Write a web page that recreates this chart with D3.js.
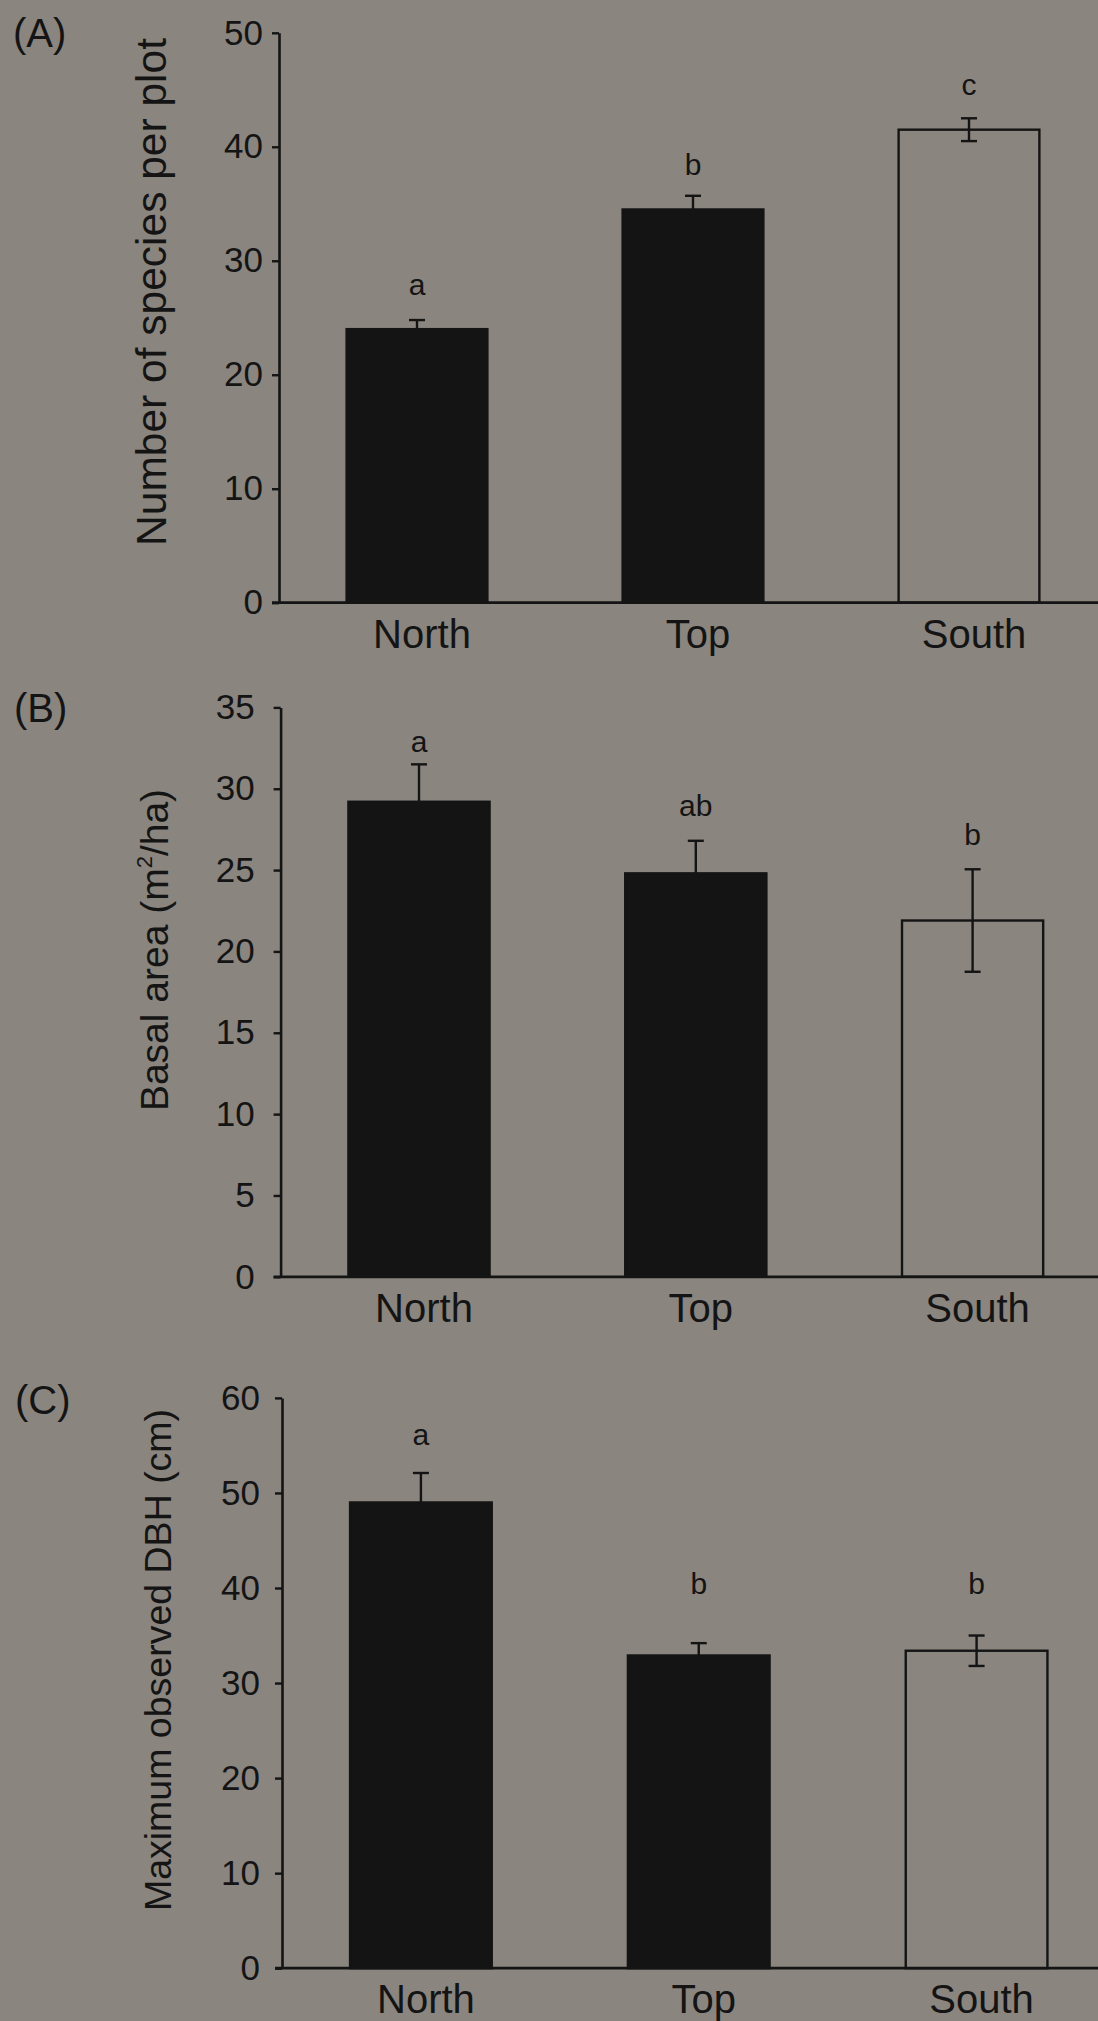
<!DOCTYPE html>
<html>
<head>
<meta charset="utf-8">
<script src="https://cdn.jsdelivr.net/npm/d3@7"></script>
<style>
  html, body { margin: 0; padding: 0; background: #8a857f; }
  svg { display: block; }
  text { font-family: "Liberation Sans", Arial, Helvetica, sans-serif; fill: #141414; }
</style>
</head>
<body>
<svg id="chart" width="1098" height="2021"></svg>
<script>
// ---------- data ----------
const categories = ["North", "Top", "South"];

const speciesMean = [24.0, 34.5, 41.5];
const speciesSE = [0.8, 1.2, 1.0];
const speciesLetters = ["a", "b", "c"];
const speciesLetterAt = [27.8, 38.3, 45.3];
const speciesTicks = [0, 10, 20, 30, 40, 50];

const basalMean = [29.2, 24.8, 21.9];
const basalSE = [2.3, 2.0, 3.15];
const basalLetters = ["a", "ab", "b"];
const basalLetterAt = [32.8, 28.9, 27.1];
const basalTicks = [0, 5, 10, 15, 20, 25, 30, 35];

const dbhMean = [49.0, 32.9, 33.4];
const dbhSE = [3.1, 1.3, 1.6];
const dbhLetters = ["a", "b", "b"];
const dbhLetterAt = [56.0, 40.3, 40.3];
const dbhTicks = [0, 10, 20, 30, 40, 50, 60];

const hollow = ["South"];

// ---------- layout ----------
const panels = [
  { tag: "(A)", title: ["Number of species per plot"], mean: speciesMean, se: speciesSE,
    letters: speciesLetters, letterAt: speciesLetterAt, ticks: speciesTicks,
    yTop: 32.8, y0: 602.7, axisX: 279, bandEnd: 1107, tickPad: 9,
    titleX: 151, titleY: 292, titleSize: 42.5, tagY: 46.6, tagX: 13 },
  { tag: "(B)", title: ["Basal area (m", "2", "/ha)"], mean: basalMean, se: basalSE,
    letters: basalLetters, letterAt: basalLetterAt, ticks: basalTicks,
    yTop: 707.4, y0: 1276.8, axisX: 280.6, bandEnd: 1111, tickPad: 19,
    titleX: 154, titleY: 950, titleSize: 39, tagY: 722, tagX: 14 },
  { tag: "(C)", title: ["Maximum observed DBH (cm)"], mean: dbhMean, se: dbhSE,
    letters: dbhLetters, letterAt: dbhLetterAt, ticks: dbhTicks,
    yTop: 1397.9, y0: 1968.2, axisX: 282, bandEnd: 1115.5, tickPad: 15,
    titleX: 157, titleY: 1660, titleSize: 37.5, tagY: 1414, tagX: 15 }
];

const svg = d3.select("#chart");
const ink = "#141414";
const bg = "#8a857f";

panels.forEach(p => {
  const g = svg.append("g");
  const maxT = d3.max(p.ticks);
  const y = d3.scaleLinear().domain([0, maxT]).range([p.y0, p.yTop]);
  const x = d3.scaleBand().domain(categories)
    .range([p.axisX, p.bandEnd]).paddingInner(0.49).paddingOuter(0.245);

  // bars
  g.selectAll("rect.bar").data(categories).join("rect")
    .attr("class", "bar")
    .attr("x", d => x(d))
    .attr("width", x.bandwidth())
    .attr("y", (d, i) => y(p.mean[i]))
    .attr("height", (d, i) => y(0) - y(p.mean[i]))
    .attr("fill", d => hollow.includes(d) ? bg : ink)
    .attr("stroke", ink)
    .attr("stroke-width", 2.4);

  // error bars
  const capW = 8;
  categories.forEach((c, i) => {
    const cx = x(c) + x.bandwidth() / 2;
    const hi = y(p.mean[i] + p.se[i]);
    const lo = y(p.mean[i] - p.se[i]);
    const eg = g.append("g").attr("stroke", ink).attr("stroke-width", 2.4);
    eg.append("line").attr("x1", cx).attr("x2", cx).attr("y1", hi).attr("y2", lo);
    eg.append("line").attr("x1", cx - capW).attr("x2", cx + capW).attr("y1", hi).attr("y2", hi);
    eg.append("line").attr("x1", cx - capW).attr("x2", cx + capW).attr("y1", lo).attr("y2", lo);
    // significance letter
    g.append("text")
      .attr("x", cx)
      .attr("y", y(p.letterAt[i]))
      .attr("dy", "0.3em")
      .attr("text-anchor", "middle")
      .attr("font-size", 30)
      .text(p.letters[i]);
    // category label
    g.append("text")
      .attr("x", cx + 5)
      .attr("y", p.y0 + 45)
      .attr("text-anchor", "middle")
      .attr("font-size", 40)
      .text(c);
  });

  // y axis
  const ax = g.append("g")
    .attr("transform", `translate(${p.axisX},0)`)
    .call(d3.axisLeft(y).tickValues(p.ticks).tickSize(7).tickSizeOuter(0).tickPadding(p.tickPad));
  ax.select(".domain").attr("stroke", ink).attr("stroke-width", 2.6);
  ax.selectAll(".tick line").attr("stroke", ink).attr("stroke-width", 2.4);
  ax.selectAll(".tick text").attr("font-size", 35).attr("fill", ink)
    .attr("font-family", '"Liberation Sans", Arial, sans-serif');

  // x baseline
  g.append("line")
    .attr("x1", p.axisX - 7).attr("x2", 1098)
    .attr("y1", y(0)).attr("y2", y(0))
    .attr("stroke", ink).attr("stroke-width", 2.8);

  // y title
  const t = g.append("text")
    .attr("transform", `translate(${p.titleX},${p.titleY}) rotate(-90)`)
    .attr("text-anchor", "middle")
    .attr("dy", "0.36em")
    .attr("font-size", p.titleSize);
  if (p.title.length === 1) {
    t.text(p.title[0]);
  } else {
    t.append("tspan").text(p.title[0]);
    t.append("tspan").attr("font-size", 22).attr("dy", "-0.75em").text(p.title[1]);
    t.append("tspan").attr("dy", "0.43em").text(p.title[2]);
  }

  // panel tag
  g.append("text")
    .attr("x", p.tagX).attr("y", p.tagY)
    .attr("font-size", 40)
    .text(p.tag);
});
</script>
</body>
</html>
